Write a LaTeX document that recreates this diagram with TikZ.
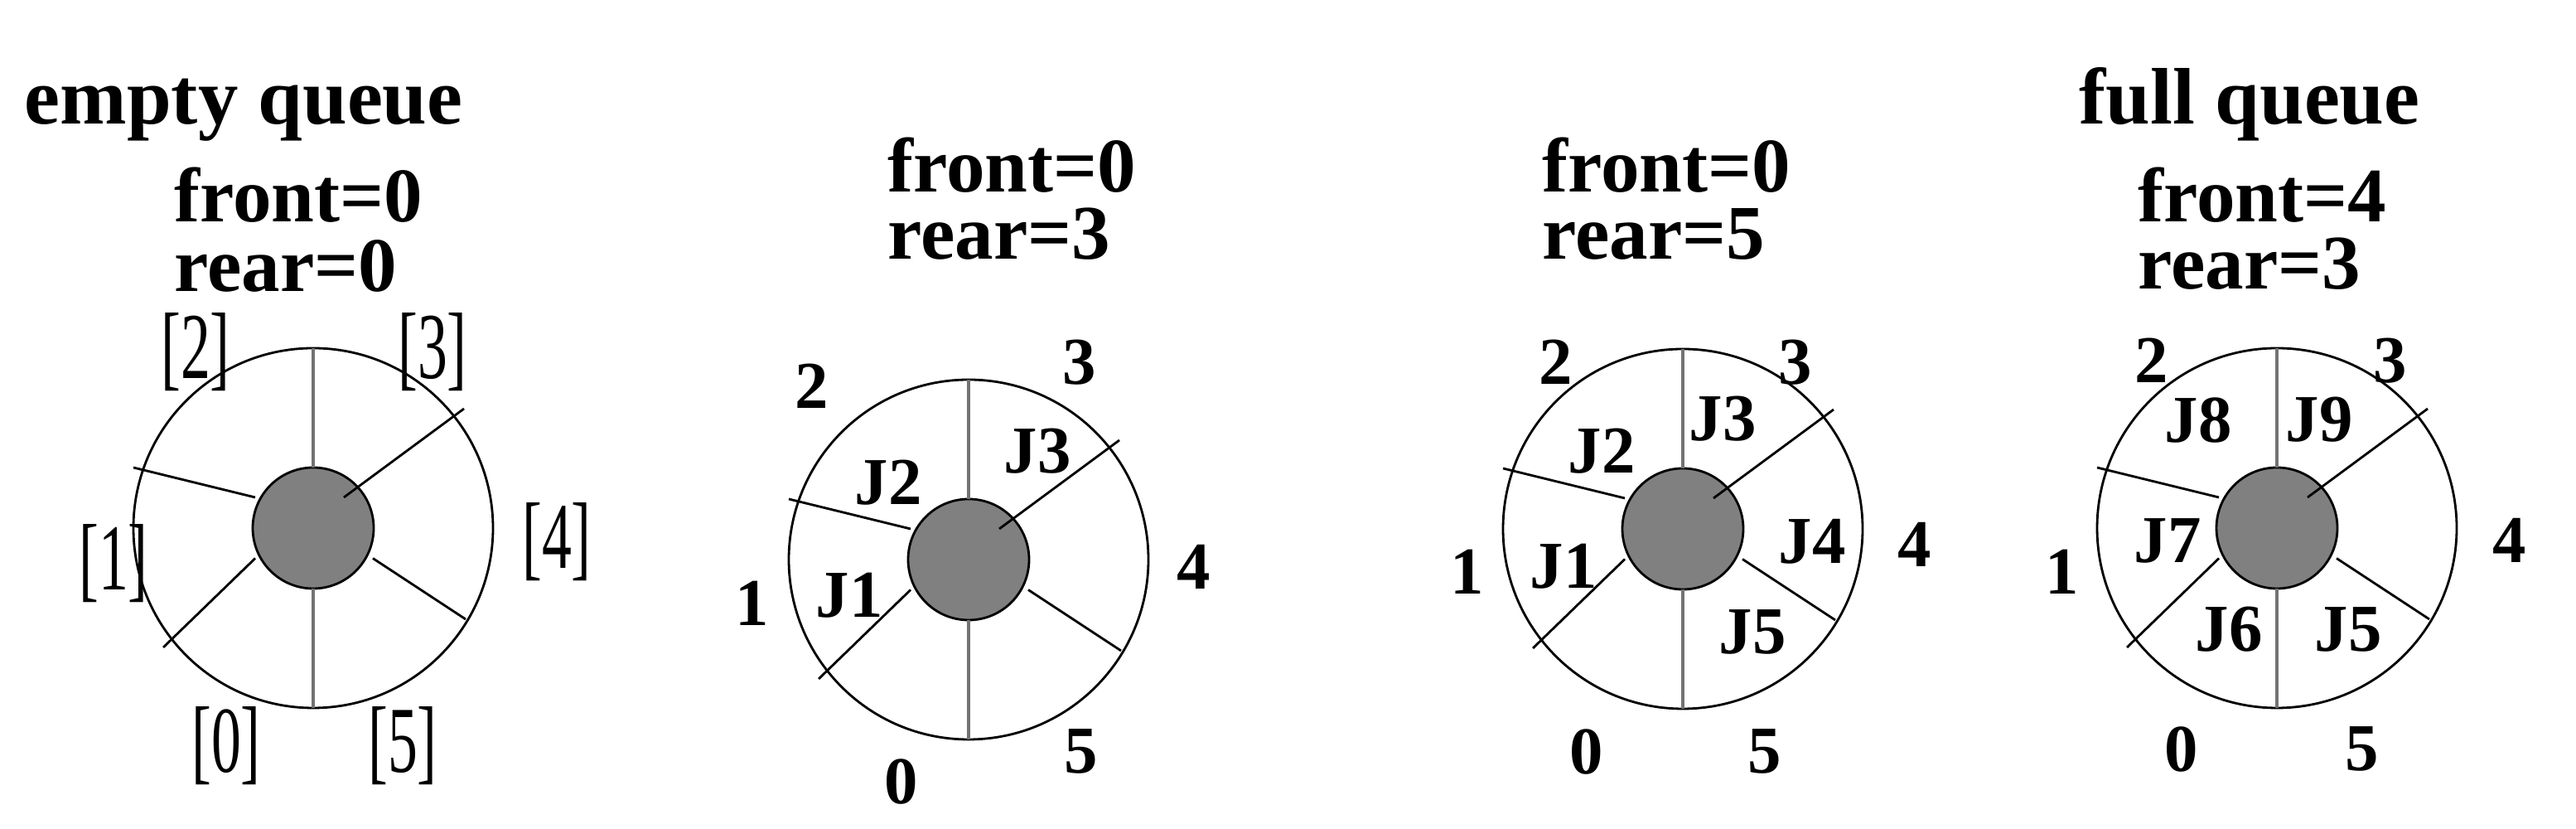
\documentclass[tikz,border=0pt]{standalone}
\usepackage{fontspec}
\setmainfont{Liberation Serif}
\newcommand{\slotlab}[1]{\scalebox{0.85}[1.35]{[#1]}}
\tikzset{
  ring/.style={line width=0.8pt},
  hub/.style={draw=black,fill=black!50,line width=0.8pt},
  spoke/.style={line width=0.8pt},
  vspoke/.style={line width=1pt,draw=black!55},
  head/.style={font=\bfseries\fontsize{26.5}{30}\selectfont,inner sep=0pt,anchor=base west},
  title/.style={font=\bfseries\fontsize{27.5}{30}\selectfont,inner sep=0pt,anchor=base west},
  idx/.style={font=\bfseries\fontsize{23}{26}\selectfont,inner sep=0pt},
  slot/.style={font=\fontsize{24}{28}\selectfont,inner sep=0pt},
  job/.style={font=\bfseries\fontsize{23}{26}\selectfont,inner sep=0pt}
}
\begin{document}
\begin{tikzpicture}
\useasboundingbox (0,0) rectangle (31.09,10);
% the four rings
\foreach \x/\y in {3.78/3.63, 11.69/3.25, 20.31/3.62, 27.48/3.63}{
  \begin{scope}[shift={(\x,\y)}]
    \draw[ring] (0,0) circle (2.17);
    \draw[hub] (0,0) circle (0.73);
    \draw[vspoke] (0,0.73) -- (0,2.17);
    \draw[vspoke] (0,-0.73) -- (0,-2.17);
    \draw[spoke] (0.37,0.37) -- (1.82,1.44);
    \draw[spoke] (-0.70,0.37) -- (-2.17,0.73);
    \draw[spoke] (-0.70,-0.365) -- (-1.81,-1.44);
    \draw[spoke] (0.72,-0.365) -- (1.84,-1.10);
  \end{scope}
}
% empty queue
\node[title] (t1) at (0.29,8.50) {empty queue};
\node[head] (f1) at (2.10,7.32) {front=0};
\node[head] (r1) at (2.10,6.48) {rear=0};
\node[slot] (w1i2) at (2.36,5.75) {\slotlab{2}};
\node[slot] (w1i3) at (5.22,5.75) {\slotlab{3}};
\node[slot] (w1i4) at (6.72,3.46) {\slotlab{4}};
\node[slot] (w1i1) at (1.37,3.20) {\slotlab{1}};
\node[slot] (w1i0) at (2.73,1.00) {\slotlab{0}};
\node[slot] (w1i5) at (4.86,1.00) {\slotlab{5}};
% three jobs
\node[head] (f2) at (10.71,7.68) {front=0};
\node[head] (r2) at (10.71,6.87) {rear=3};
\node[idx] (w2i2) at (9.80,5.34) {2};
\node[idx] (w2i3) at (13.03,5.63) {3};
\node[idx] (w2i4) at (14.41,3.16) {4};
\node[idx] (w2i1) at (9.08,2.72) {1};
\node[idx] (w2i0) at (10.88,0.57) {0};
\node[idx] (w2i5) at (13.05,0.94) {5};
\node[job] (w2j2) at (10.72,4.18) {J2};
\node[job] (w2j3) at (12.52,4.56) {J3};
\node[job] (w2j1) at (10.25,2.82) {J1};
% five jobs
\node[head] (f3) at (18.61,7.68) {front=0};
\node[head] (r3) at (18.61,6.87) {rear=5};
\node[idx] (w3i2) at (18.78,5.63) {2};
\node[idx] (w3i3) at (21.67,5.63) {3};
\node[idx] (w3i4) at (23.11,3.43) {4};
\node[idx] (w3i1) at (17.71,3.10) {1};
\node[idx] (w3i0) at (19.15,0.93) {0};
\node[idx] (w3i5) at (21.30,0.94) {5};
\node[job] (w3j2) at (19.33,4.56) {J2};
\node[job] (w3j3) at (20.79,4.95) {J3};
\node[job] (w3j1) at (18.87,3.17) {J1};
\node[job] (w3j4) at (21.87,3.47) {J4};
\node[job] (w3j5) at (21.15,2.38) {J5};
% full queue
\node[title] (t4) at (25.09,8.50) {full queue};
\node[head] (f4) at (25.80,7.32) {front=4};
\node[head] (r4) at (25.80,6.51) {rear=3};
\node[idx] (w4i2) at (25.97,5.65) {2};
\node[idx] (w4i3) at (28.85,5.65) {3};
\node[idx] (w4i4) at (30.29,3.48) {4};
\node[idx] (w4i1) at (24.89,3.10) {1};
\node[idx] (w4i0) at (26.33,0.96) {0};
\node[idx] (w4i5) at (28.51,0.97) {5};
\node[job] (w4j8) at (26.53,4.93) {J8};
\node[job] (w4j9) at (27.99,4.94) {J9};
\node[job] (w4j7) at (26.16,3.48) {J7};
\node[job] (w4j6) at (26.90,2.41) {J6};
\node[job] (w4j5) at (28.34,2.41) {J5};
\end{tikzpicture}
\end{document}
